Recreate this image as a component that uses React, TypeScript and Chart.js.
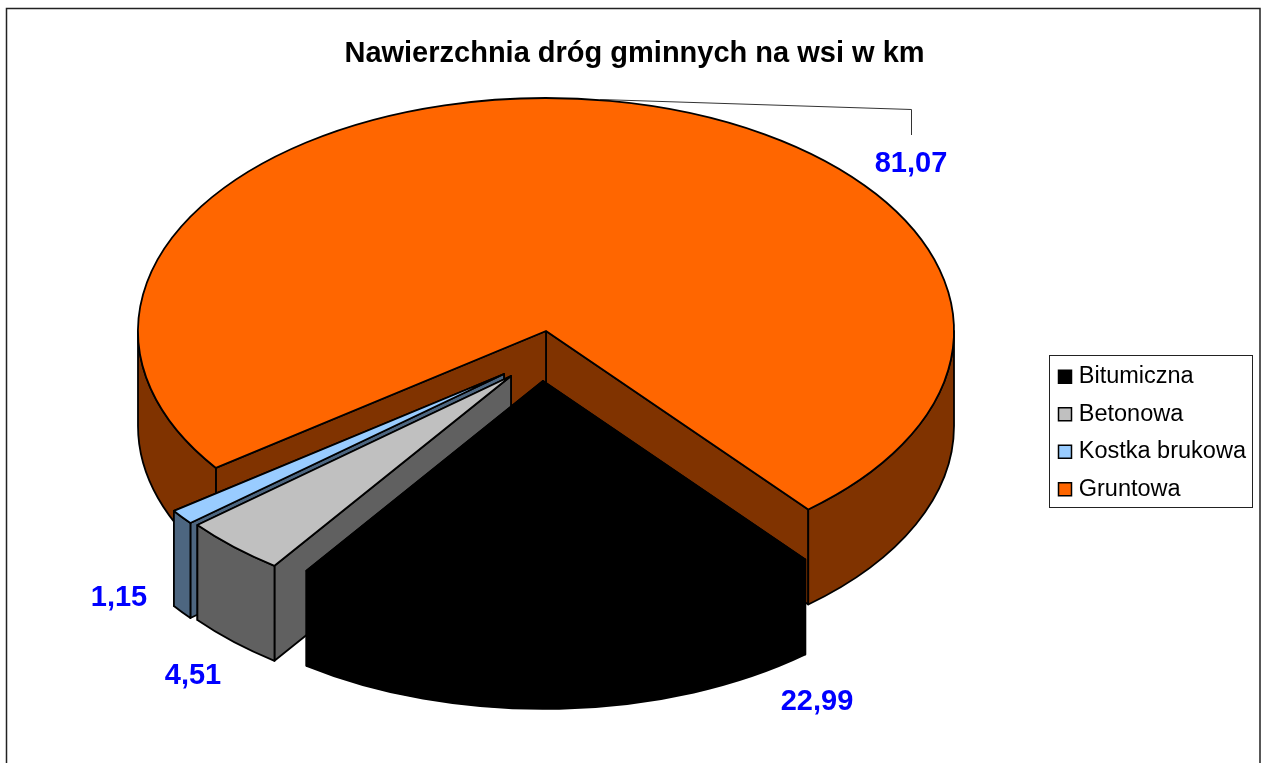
import React, { useEffect, useRef } from "react";
import { Chart, registerables } from "chart.js";

Chart.register(...registerables);

const categories = ["Bitumiczna", "Betonowa", "Kostka brukowa", "Gruntowa"];
const values = [22.99, 4.51, 1.15, 81.07];
const topColors = ["#000000", "#C0C0C0", "#99CCFF", "#FF6600"];
const wallColors = ["#000000", "#606060", "#4D6680", "#803300"];

// 3D look of the pie
const CENTER_X = 546;
const CENTER_Y = 331;
const RADIUS = 408;
const SQUASH = 0.571;
const DEPTH = 95;
const ROTATION = 140;
const shiftX = [-3, -35, -42, 0];
const shiftY = [50, 45, 43, 0];
const labelX = [817, 193, 119, 911];
const labelY = [702, 676, 598, 164];

const SANS = '"Liberation Sans", Arial, sans-serif';
const fmt = (v: number) => v.toFixed(2).replace(".", ",");

const pie3d = {
  id: "pie3d",
  afterLayout(chart: any) {
    const l = chart.legend;
    l.left = 1044;
    l.top = 351;
    l.right = 1261;
    l.bottom = 520;
    l.width = l.right - l.left;
    l.height = l.bottom - l.top;
    const t = chart.titleBlock;
    if (t) {
      t.left = 4;
      t.right = chart.width + 4;
      t.top = 37;
      t.bottom = t.top + t.height;
    }
  },
  beforeDraw(chart: any) {
    const c = chart.ctx;
    c.save();
    c.fillStyle = "#FFFFFF";
    c.fillRect(0, 0, chart.width, chart.height);
    c.strokeStyle = "#222222";
    c.lineWidth = 1.5;
    c.beginPath();
    c.moveTo(6.5, 790);
    c.lineTo(6.5, 8.5);
    c.lineTo(1260, 8.5);
    c.lineTo(1260, 790);
    c.stroke();
    c.restore();
  },
  beforeDatasetDraw(chart: any, args: any) {
    const c = chart.ctx;
    const arcs = args.meta.data;
    const order = arcs.map((_: any, i: number) => i).reverse();
    c.save();
    c.lineJoin = "round";
    c.lineWidth = 1.8;
    c.strokeStyle = "#000000";
    for (const i of order) {
      const arc = arcs[i];
      const { x, y, startAngle, endAngle, outerRadius } = arc.getProps(
        ["x", "y", "startAngle", "endAngle", "outerRadius"],
        true
      );
      const cx = CENTER_X + shiftX[i];
      const cy = CENTER_Y + shiftY[i];
      const rx = outerRadius;
      const ry = outerRadius * SQUASH;
      c.fillStyle = wallColors[i];
      // radial cut faces
      for (const a of [endAngle, startAngle]) {
        const ex = cx + rx * Math.cos(a);
        const ey = cy + ry * Math.sin(a);
        c.beginPath();
        c.moveTo(cx, cy);
        c.lineTo(ex, ey);
        c.lineTo(ex, ey + DEPTH);
        c.lineTo(cx, cy + DEPTH);
        c.closePath();
        c.fill();
        c.stroke();
      }
      // outer rim, front half only
      for (let k = -1; k < 3; k++) {
        const lo = Math.max(startAngle, k * 2 * Math.PI);
        const hi = Math.min(endAngle, k * 2 * Math.PI + Math.PI);
        if (hi <= lo) continue;
        c.beginPath();
        c.ellipse(cx, cy, rx, ry, 0, lo, hi, false);
        c.ellipse(cx, cy + DEPTH, rx, ry, 0, hi, lo, true);
        c.closePath();
        c.fill();
        c.stroke();
      }
      // top face, drawn by the library's own arc element
      c.save();
      c.translate(cx, cy);
      c.scale(1, SQUASH);
      c.translate(-x, -y);
      arc.draw(c);
      c.restore();
      c.beginPath();
      c.moveTo(cx, cy);
      c.ellipse(cx, cy, rx, ry, 0, startAngle, endAngle, false);
      c.closePath();
      c.stroke();
    }
    c.restore();
    return false;
  },
  afterDatasetsDraw(chart: any) {
    const c = chart.ctx;
    c.save();
    // leader line
    c.strokeStyle = "#333333";
    c.lineWidth = 1;
    c.beginPath();
    c.moveTo(600, 99.5);
    c.lineTo(911.5, 109.5);
    c.lineTo(911.5, 135);
    c.stroke();
    // value labels
    c.fillStyle = "#0000FF";
    c.font = `bold 29px ${SANS}`;
    c.textAlign = "center";
    c.textBaseline = "middle";
    values.forEach((v, i) => c.fillText(fmt(v), labelX[i], labelY[i]));
    // legend frame
    c.strokeStyle = "#222222";
    c.lineWidth = 1;
    c.strokeRect(1049.5, 355.5, 203, 152);
    // legend colour keys, aligned with the library's legend rows
    c.lineWidth = 1.5;
    c.strokeStyle = "#000000";
    (chart.legend.legendHitBoxes || []).forEach((h: any, i: number) => {
      c.fillStyle = topColors[i];
      c.fillRect(1058.5, h.top + h.height / 2 - 6.5, 13, 13);
      c.strokeRect(1058.5, h.top + h.height / 2 - 6.5, 13, 13);
    });
    c.restore();
  },
};

export default function App() {
  const ref = useRef<HTMLCanvasElement>(null);
  useEffect(() => {
    const chart = new Chart(ref.current as HTMLCanvasElement, {
      type: "pie",
      data: {
        labels: categories,
        datasets: [
          {
            data: values,
            backgroundColor: topColors,
            borderWidth: 0,
            radius: RADIUS,
            rotation: ROTATION,
            clip: false,
          } as any,
        ],
      },
      options: {
        responsive: false,
        animation: false,
        layout: { padding: 0 },
        plugins: {
          tooltip: { enabled: false },
          title: {
            display: true,
            text: "Nawierzchnia dróg gminnych na wsi w km",
            color: "#000000",
            font: { family: SANS, size: 29, weight: "bold" },
            padding: 0,
          },
          legend: {
            position: "right",
            align: "start",
            labels: {
              color: "#000000",
              font: { family: SANS, size: 23.5 },
              boxWidth: 9,
              boxHeight: 13,
              padding: 14,
              generateLabels(ch: any) {
                const base = (Chart as any).overrides.pie.plugins.legend.labels.generateLabels(ch);
                return base.map((it: any) => ({
                  ...it,
                  fillStyle: "rgba(0,0,0,0)",
                  strokeStyle: "rgba(0,0,0,0)",
                  lineWidth: 0,
                }));
              },
            },
          },
        },
      },
      plugins: [pie3d],
    } as any);
    return () => chart.destroy();
  }, []);
  return (
    <canvas
      ref={ref}
      width={1261}
      height={763}
      style={{ position: "fixed", left: 0, top: 0, display: "block" }}
    />
  );
}
